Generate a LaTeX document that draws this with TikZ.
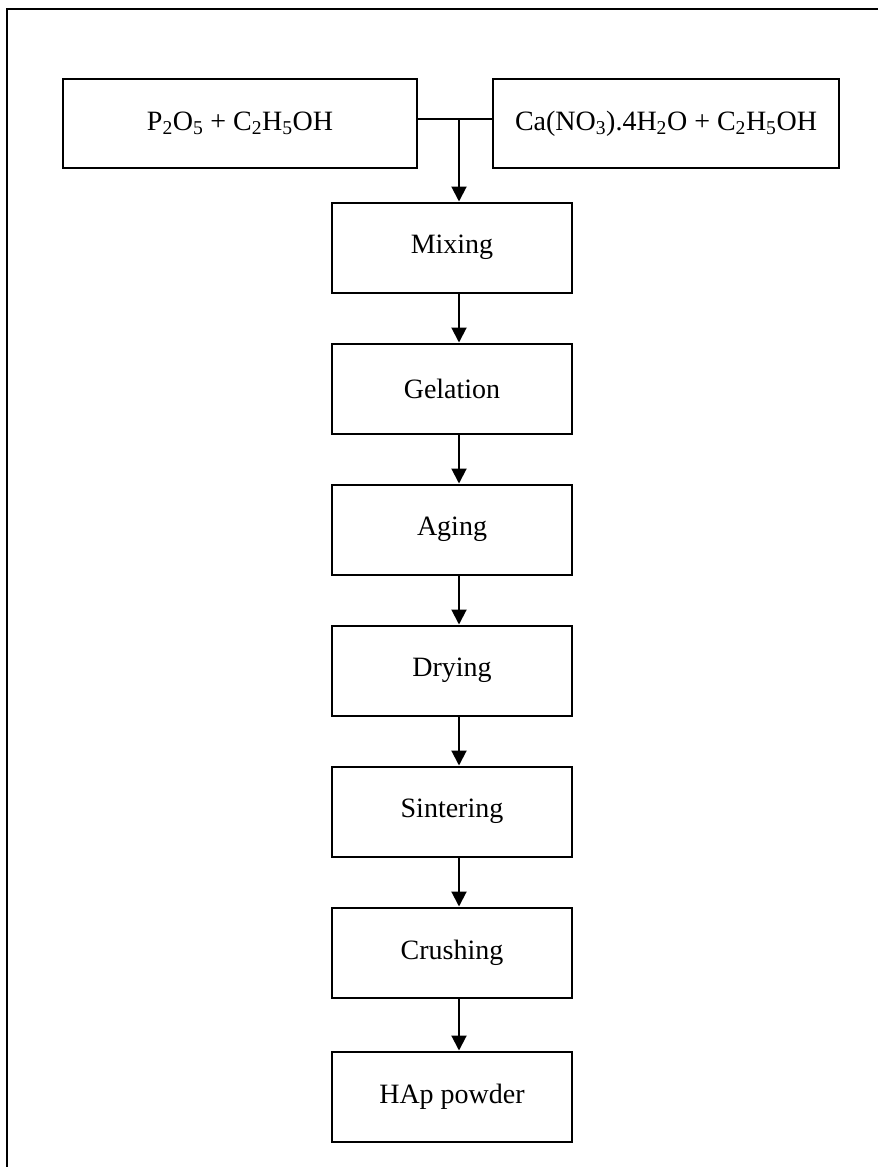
\documentclass[tikz,border=0pt]{standalone}
\usepackage{fontspec}
\setmainfont{Liberation Serif}
\usetikzlibrary{arrows.meta,positioning}
\begin{document}
\begin{tikzpicture}[x=1pt,y=-1pt,
  box/.style={draw,line width=2pt,minimum height=89pt,inner sep=0pt,font=\fontsize{28}{32}\selectfont},
  stepbox/.style={box,minimum width=240pt,minimum height=90pt},
  arr/.style={line width=2pt,-{Triangle[width=15pt,length=15pt]}},
  link/.style={line width=2pt}]
\useasboundingbox (0,0) rectangle (878,1167);
\draw[line width=2.5pt] (7,1167) -- (7,9) -- (878,9);
\node[box,minimum width=354pt] (p) at (240,123.5) {P\textsubscript{2}O\textsubscript{5} + C\textsubscript{2}H\textsubscript{5}OH};
\node[box,minimum width=346pt] (c) at (666,123.5) {Ca(NO\textsubscript{3}).4H\textsubscript{2}O + C\textsubscript{2}H\textsubscript{5}OH};
\node[stepbox] (s1) at (452,247.5) {Mixing};
\node[stepbox] (s2) at (452,388.5) {Gelation};
\node[stepbox] (s3) at (452,529.5) {Aging};
\node[stepbox] (s4) at (452,670.5) {Drying};
\node[stepbox] (s5) at (452,811.5) {Sintering};
\node[stepbox] (s6) at (452,952.5) {Crushing};
\node[stepbox] (s7) at (452,1096.5) {HAp powder};
\coordinate (j) at (459,119);
\draw[link] (p.east |- j) -- (c.west |- j);
\draw[arr] (j) -- ([xshift=7pt]s1.north);
\foreach \a/\b in {s1/s2,s2/s3,s3/s4,s4/s5,s5/s6,s6/s7}
  \draw[arr] ([xshift=7pt]\a.south) -- ([xshift=7pt]\b.north);
\end{tikzpicture}
\end{document}
